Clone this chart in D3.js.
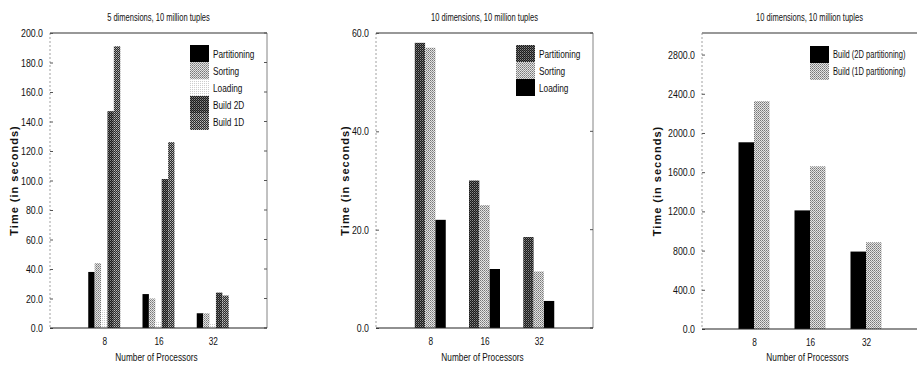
<!DOCTYPE html>
<html>
<head>
<meta charset="utf-8">
<script src="https://cdn.jsdelivr.net/npm/d3@7"></script>
<style>
  body { margin: 0; background: #fff; }
  svg text { font-family: "Liberation Sans", Arial, sans-serif; fill: #111; }
  .ytitle { font-weight: bold; letter-spacing: 1px; }
</style>
</head>
<body>
<div id="chart"></div>
<script>
var processors = ['8', '16', '32'];

// panel 1: 5 dimensions
var series_a = ['Partitioning', 'Sorting', 'Loading', 'Build 2D', 'Build 1D'];
var partitioning_a = [38, 23, 10];
var sorting_a = [44, 20, 10];
var loading_a = [12, 4, 3];
var build2d_a = [147, 101, 24];
var build1d_a = [191, 126, 22];
var ticks_a = [0, 20, 40, 60, 80, 100, 120, 140, 160, 180, 200];

// panel 2: 10 dimensions
var series_b = ['Partitioning', 'Sorting', 'Loading'];
var partitioning_b = [58, 30, 18.5];
var sorting_b = [57, 25, 11.5];
var loading_b = [22, 12, 5.5];
var ticks_b = [0, 20, 40, 60];

// panel 3: build times
var series_c = ['Build (2D partitioning)', 'Build (1D partitioning)'];
var build2d_c = [1905, 1210, 790];
var build1d_c = [2325, 1660, 885];
var ticks_c = [0, 400, 800, 1200, 1600, 2000, 2400, 2800];

var width = 917, height = 365;
var svg = d3.select('#chart').append('svg')
  .attr('width', width)
  .attr('height', height);

// fill textures, scanned look
var defs = svg.append('defs');
function make_pattern(id, bg, dots){
  var p = defs.append('pattern')
    .attr('id', id)
    .attr('patternUnits', 'userSpaceOnUse')
    .attr('width', 2).attr('height', 2);
  p.append('rect').attr('width', 2).attr('height', 2).attr('fill', bg);
  dots.forEach(function(d){
    p.append('rect').attr('x', d[0]).attr('y', d[1]).attr('width', 1).attr('height', 1).attr('fill', d[2]);
  });
}
make_pattern('pat_dark', '#1a1a1a', [[0, 0, '#8a8a8a'], [1, 1, '#555']]);
make_pattern('pat_mid', '#2a2a2a', [[0, 0, '#bbb'], [1, 1, '#888']]);
make_pattern('pat_light', '#e4e4e4', [[0, 0, '#777'], [1, 1, '#999']]);
make_pattern('pat_dotted', '#ffffff', [[0, 0, '#ccc']]);

var panels = [
  {
    title: '5 dimensions, 10 million tuples',
    x0: 50, x1: 267, xr0: 50, top: 33, bottom: 328, max: 200, ticks: ticks_a,
    series: series_a,
    values: [partitioning_a, sorting_a, loading_a, build2d_a, build1d_a],
    fills: ['#000', 'url(#pat_light)', 'url(#pat_dotted)', 'url(#pat_dark)', 'url(#pat_mid)'],
    group: 32, legend_x: 190, legend_y: 45, legend_font: 11.5, ytitle_x: 14
  },
  {
    title: '10 dimensions, 10 million tuples',
    x0: 376, x1: 593, xr0: 376, top: 33, bottom: 328, max: 60, ticks: ticks_b,
    series: series_b,
    values: [partitioning_b, sorting_b, loading_b],
    fills: ['url(#pat_dark)', 'url(#pat_light)', '#000'],
    group: 31, legend_x: 516, legend_y: 45, legend_font: 11.5, ytitle_x: 345
  },
  {
    title: '10 dimensions, 10 million tuples',
    x0: 702, x1: 922, xr0: 698, top: 33, bottom: 329, max: 3020, ticks: ticks_c,
    series: series_c,
    values: [build2d_c, build1d_c],
    fills: ['#000', 'url(#pat_light)'],
    group: 31, legend_x: 810, legend_y: 46, legend_font: 10.5, ytitle_x: 657
  }
];

panels.forEach(draw_panel);

// the scan uses a narrow face, squeeze the regular one around its own x
function squeeze(sel, f){
  sel.each(function(){
    var t = d3.select(this);
    var tx = +(t.attr('x') || 0);
    t.attr('transform', 'translate(' + tx + ',0) scale(' + f + ',1) translate(' + (-tx) + ',0)');
  });
}
squeeze(svg.selectAll('text.squeeze'), 0.72);
squeeze(svg.selectAll('.yaxis .tick text'), 0.8);

function draw_panel(cfg){
  var g = svg.append('g');

  var x = d3.scalePoint()
    .domain(processors)
    .range([cfg.xr0, cfg.x1])
    .padding(1);

  var y = d3.scaleLinear()
    .domain([0, cfg.max])
    .range([cfg.bottom, cfg.top]);

  var xs = d3.scaleBand()
    .domain(cfg.series)
    .range([-cfg.group / 2, cfg.group / 2]);

  // frame
  g.append('line')
    .attr('x1', cfg.x0).attr('x2', cfg.x1)
    .attr('y1', cfg.top).attr('y2', cfg.top)
    .attr('stroke', '#333').attr('stroke-width', 1.2);
  g.append('line')
    .attr('x1', cfg.x1).attr('x2', cfg.x1)
    .attr('y1', cfg.top).attr('y2', cfg.bottom)
    .attr('stroke', '#666').attr('stroke-width', 0.8);
  g.append('line')
    .attr('x1', cfg.x0).attr('x2', cfg.x0)
    .attr('y1', cfg.top).attr('y2', cfg.bottom)
    .attr('stroke', '#888').attr('stroke-width', 0.8)
    .attr('stroke-dasharray', '2,2');

  // left axis
  var y_axis = d3.axisLeft(y)
    .tickValues(cfg.ticks)
    .tickSize(-3)
    .tickPadding(7)
    .tickFormat(d3.format('.1f'));
  var ga = g.append('g')
    .attr('class', 'yaxis')
    .attr('transform', 'translate(' + cfg.x0 + ',0)')
    .call(y_axis);
  ga.select('.domain').remove();
  ga.selectAll('.tick line').attr('stroke', '#555');
  ga.selectAll('.tick text').style('font-size', '11px');

  // right side ticks
  g.append('g')
    .selectAll('line')
    .data(cfg.ticks)
    .join('line')
    .attr('x1', cfg.x1 - 3).attr('x2', cfg.x1)
    .attr('y1', function(d){ return y(d); })
    .attr('y2', function(d){ return y(d); })
    .attr('stroke', '#555');

  // bars
  cfg.series.forEach(function(s, i){
    g.append('g')
      .selectAll('rect')
      .data(cfg.values[i])
      .join('rect')
      .attr('x', function(d, j){ return x(processors[j]) + xs(s); })
      .attr('y', function(d){ return y(d); })
      .attr('width', xs.bandwidth())
      .attr('height', function(d){ return cfg.bottom - y(d); })
      .attr('fill', cfg.fills[i]);
  });

  // baseline
  g.append('line')
    .attr('x1', cfg.x0).attr('x2', cfg.x1)
    .attr('y1', cfg.bottom).attr('y2', cfg.bottom)
    .attr('stroke', '#222').attr('stroke-width', 1.2);

  // x axis
  var x_axis = d3.axisBottom(x)
    .tickSize(0)
    .tickPadding(9);
  var gx = g.append('g')
    .attr('transform', 'translate(0,' + cfg.bottom + ')')
    .call(x_axis);
  gx.select('.domain').remove();
  gx.selectAll('.tick text')
    .classed('squeeze', true)
    .style('font-size', '11.5px');

  g.append('text')
    .classed('squeeze', true)
    .attr('x', (cfg.x0 + Math.min(cfg.x1, 917)) / 2 - 2)
    .attr('y', 361)
    .attr('text-anchor', 'middle')
    .style('font-size', '11.5px')
    .text('Number of Processors');

  g.append('text')
    .classed('squeeze', true)
    .attr('x', (cfg.x0 + Math.min(cfg.x1, 917)) / 2)
    .attr('y', 21)
    .attr('text-anchor', 'middle')
    .style('font-size', '10.5px')
    .text(cfg.title);

  g.append('text')
    .attr('class', 'ytitle')
    .attr('transform', 'translate(' + cfg.ytitle_x + ',' + ((cfg.top + cfg.bottom) / 2) + ') rotate(-90)')
    .attr('dy', '0.35em')
    .attr('text-anchor', 'middle')
    .style('font-size', '11px')
    .text('Time (in seconds)');

  // legend
  var row_h = 17;
  var lg = g.append('g')
    .attr('transform', 'translate(' + cfg.legend_x + ',' + cfg.legend_y + ')');
  cfg.series.forEach(function(s, i){
    lg.append('rect')
      .attr('x', 0).attr('y', i * row_h)
      .attr('width', 19).attr('height', row_h)
      .attr('fill', cfg.fills[i]);
    lg.append('text')
      .classed('squeeze', true)
      .attr('x', 23).attr('y', i * row_h + row_h / 2)
      .attr('dy', '0.35em')
      .style('font-size', cfg.legend_font + 'px')
      .text(s);
  });
}
</script>
</body>
</html>
